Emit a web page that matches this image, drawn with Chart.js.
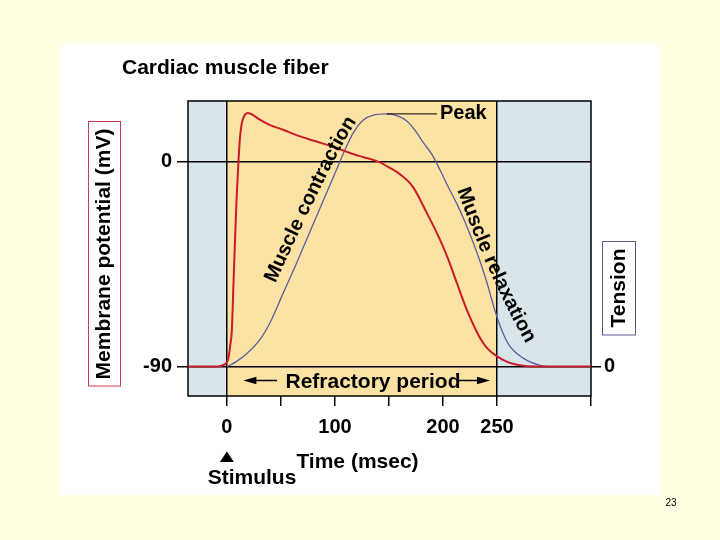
<!DOCTYPE html>
<html>
<head>
<meta charset="utf-8">
<script src="https://cdn.jsdelivr.net/npm/chart.js@4.4.1/dist/chart.umd.min.js"></script>
<style>
html, body { margin: 0; padding: 0; background: #FFFFE4; }
canvas { display: block; }
</style>
</head>
<body>
<canvas id="cardiacChart" width="720" height="540"></canvas>
<script>
// DATA (time in msec)
const apTime = [-36, -10, -5, -2, 0, 1.5, 3, 4.6, 6, 7.7, 9, 10.7, 12, 13.5, 16, 19.5, 24, 30, 40, 52, 65, 83, 100, 114, 126, 140, 150, 160, 172, 185, 197, 205, 213, 222, 229, 235, 241, 250, 260, 270, 285, 337];
const apMembrane = [-90, -90, -89.6, -89, -88, -86, -81, -74, -55, -32, -16, 0, 10, 16, 20, 21.3, 20.5, 18.5, 16, 14, 11.5, 8.8, 6.2, 3.8, 2, 0, -2.5, -5.5, -11, -22.5, -34, -43, -53.5, -65, -72.5, -78, -82, -85.5, -88, -89.3, -90, -90];

const tensionTime = [0, 8, 18, 31, 40, 52, 62, 71, 80, 89, 96, 103, 110, 117, 126, 135, 148, 158, 167, 175, 182, 190, 197.5, 205, 213, 220, 228, 235, 241, 248, 255, 262, 275, 290, 300, 337];
const tensionLevel = [0, 1.8, 5, 11, 17.5, 29, 38.5, 47.5, 56.5, 65.5, 72.5, 79.5, 86.5, 92.5, 97.5, 99.4, 100, 99.2, 97, 93, 88.5, 83.8, 77.6, 71, 64.3, 57.6, 49, 40.8, 32.8, 22.3, 13.8, 8, 3.2, 0.5, 0, 0];

const timeTicks = [0, 50, 100, 150, 200, 250, 337];
const timeLabels = [0, 100, 200, 250];
const membraneTicks = [-90, 0];
const tensionTicks = [0];

const FONT = "'Liberation Sans', Arial, sans-serif";
const PAGE = '#FFFFE4';
const SKY = '#D8E5EB';
const SAND = '#FCE3A3';
const RED = '#CC1B28';
const BLUE = '#5C5CA2';

// text laid along a quadratic curve, one glyph at a time
function textOnCurve(ctx, text, p0, p1, p2) {
  const pts = [{x: p0[0], y: p0[1], s: 0}];
  let len = 0;
  for (let i = 1; i <= 300; i++) {
    const t = i / 300, u = 1 - t;
    const x = u*u*p0[0] + 2*u*t*p1[0] + t*t*p2[0];
    const y = u*u*p0[1] + 2*u*t*p1[1] + t*t*p2[1];
    len += Math.hypot(x - pts[i-1].x, y - pts[i-1].y);
    pts.push({x, y, s: len});
  }
  let s = (len - ctx.measureText(text).width) / 2;
  for (const ch of text) {
    const w = ctx.measureText(ch).width;
    const mid = s + w / 2;
    let i = pts.findIndex(p => p.s >= mid);
    if (i < 1) i = 1;
    const a = pts[i-1], b = pts[i];
    const f = (mid - a.s) / ((b.s - a.s) || 1);
    ctx.save();
    ctx.translate(a.x + (b.x - a.x) * f, a.y + (b.y - a.y) * f);
    ctx.rotate(Math.atan2(b.y - a.y, b.x - a.x));
    ctx.textAlign = 'center';
    ctx.textBaseline = 'middle';
    ctx.fillText(ch, 0, 0);
    ctx.restore();
    s += w;
  }
}

const decor = {
  id: 'decor',
  beforeDraw(chart) {
    const {ctx, chartArea: a, scales: {x}} = chart;
    const x0 = x.getPixelForValue(0), x250 = x.getPixelForValue(250);
    ctx.save();
    ctx.fillStyle = PAGE;
    ctx.fillRect(0, 0, 720, 540);
    ctx.fillStyle = '#fff';
    ctx.fillRect(60, 44, 600, 451);
    ctx.fillStyle = SKY;
    ctx.fillRect(a.left, a.top, a.right - a.left, a.bottom - a.top);
    ctx.fillStyle = SAND;
    ctx.fillRect(x0, a.top, x250 - x0, a.bottom - a.top);
    ctx.restore();
  },
  beforeDatasetsDraw(chart) {
    const {ctx, chartArea: a} = chart;
    ctx.save();
    ctx.strokeStyle = '#000';
    ctx.lineWidth = 1.5;
    ctx.strokeRect(a.left, a.top, a.right - a.left, a.bottom - a.top);
    ctx.restore();
  },
  afterDraw(chart) {
    const {ctx, scales: {x, yt}} = chart;
    ctx.save();
    ctx.fillStyle = '#000';
    ctx.strokeStyle = '#000';
    ctx.font = 'bold 21px ' + FONT;
    ctx.textBaseline = 'alphabetic';

    // title
    ctx.textAlign = 'left';
    ctx.fillText('Cardiac muscle fiber', 122, 73.5);

    // membrane potential label in a box
    ctx.lineWidth = 1;
    ctx.strokeStyle = '#C83C50';
    ctx.strokeRect(88.5, 121.5, 32, 264.5);
    ctx.save();
    ctx.translate(104.5, 254);
    ctx.rotate(-Math.PI / 2);
    ctx.textAlign = 'center';
    ctx.textBaseline = 'middle';
    ctx.fillText('Membrane potential (mV)', 0, 0);
    ctx.restore();

    // tension label in a box
    ctx.strokeStyle = '#5A5A96';
    ctx.strokeRect(602.5, 241.5, 33, 93.5);
    ctx.save();
    ctx.translate(619, 288);
    ctx.rotate(-Math.PI / 2);
    ctx.textAlign = 'center';
    ctx.textBaseline = 'middle';
    ctx.fillText('Tension', 0, 0);
    ctx.restore();

    // peak marker
    const peakIdx = tensionLevel.indexOf(Math.max(...tensionLevel));
    const py = yt.getPixelForValue(tensionLevel[peakIdx]);
    ctx.strokeStyle = '#000';
    ctx.lineWidth = 1;
    ctx.beginPath();
    ctx.moveTo(x.getPixelForValue(tensionTime[peakIdx]), py);
    ctx.lineTo(437, py);
    ctx.stroke();
    ctx.font = 'bold 20px ' + FONT;
    ctx.textAlign = 'left';
    ctx.textBaseline = 'middle';
    ctx.fillText('Peak', 440, py);

    // refractory period
    ctx.font = 'bold 21px ' + FONT;
    ctx.textAlign = 'center';
    ctx.textBaseline = 'alphabetic';
    ctx.fillText('Refractory period', 373, 387.5);
    const ay = 380.5;
    const arrow = (from, to) => {
      const dir = Math.sign(to - from);
      ctx.lineWidth = 1.5;
      ctx.beginPath();
      ctx.moveTo(from, ay);
      ctx.lineTo(to - dir * 10, ay);
      ctx.stroke();
      ctx.beginPath();
      ctx.moveTo(to, ay);
      ctx.lineTo(to - dir * 13, ay - 3.8);
      ctx.lineTo(to - dir * 13, ay + 3.8);
      ctx.closePath();
      ctx.fill();
    };
    arrow(277, x.getPixelForValue(0) + 16.5);
    arrow(457, x.getPixelForValue(250) - 7);

    // curved labels
    ctx.font = 'bold 20px ' + FONT;
    textOnCurve(ctx, 'Muscle contraction', [268, 286], [338, 134], [355, 114]);
    textOnCurve(ctx, 'Muscle relaxation', [461, 184], [490, 268], [533, 345]);

    // x axis title and stimulus
    ctx.font = 'bold 21px ' + FONT;
    ctx.textAlign = 'center';
    ctx.textBaseline = 'alphabetic';
    ctx.fillText('Time (msec)', 357.5, 467.5);
    ctx.fillText('Stimulus', 252, 484);
    const sx = x.getPixelForValue(0);
    ctx.beginPath();
    ctx.moveTo(sx, 451.5);
    ctx.lineTo(sx + 7, 462);
    ctx.lineTo(sx - 7, 462);
    ctx.closePath();
    ctx.fill();

    // slide number
    ctx.font = '10px ' + FONT;
    ctx.fillText('23', 671, 506);
    ctx.restore();
  }
};

const tickFont = {family: FONT, size: 20, weight: 'bold'};

new Chart(document.getElementById('cardiacChart'), {
  type: 'line',
  data: {
    datasets: [
      {
        label: 'Membrane potential',
        data: apTime.map((t, i) => ({x: t, y: apMembrane[i]})),
        borderColor: RED,
        borderWidth: 2,
        pointRadius: 0,
        cubicInterpolationMode: 'monotone',
        yAxisID: 'y'
      },
      {
        label: 'Tension',
        data: tensionTime.map((t, i) => ({x: t, y: tensionLevel[i]})),
        borderColor: BLUE,
        borderWidth: 1.3,
        pointRadius: 0,
        cubicInterpolationMode: 'monotone',
        yAxisID: 'yt'
      }
    ]
  },
  options: {
    responsive: false,
    animation: false,
    devicePixelRatio: 1,
    layout: {padding: {top: 101, left: 0, right: 0, bottom: 0}},
    plugins: {legend: {display: false}, tooltip: {enabled: false}},
    scales: {
      x: {
        type: 'linear',
        min: -36,
        max: 337,
        afterBuildTicks: s => { s.ticks = timeTicks.map(v => ({value: v})); },
        afterFit: s => { s.height = 144; },
        border: {display: false},
        grid: {
          color: c => (c.tick && (c.tick.value === 0 || c.tick.value === 250)) ? '#000' : 'rgba(0,0,0,0)',
          tickColor: '#000',
          tickLength: 10,
          lineWidth: 1.5
        },
        ticks: {
          font: tickFont,
          color: '#000',
          padding: 9,
          maxRotation: 0,
          autoSkip: false,
          callback: v => timeLabels.includes(v) ? String(v) : ''
        }
      },
      y: {
        position: 'left',
        min: -102.9,
        max: 26.6,
        afterBuildTicks: s => { s.ticks = membraneTicks.map(v => ({value: v})); },
        afterFit: s => { s.width = 188; },
        border: {display: false},
        grid: {color: '#000', tickColor: '#000', tickLength: 11, lineWidth: 1.5},
        ticks: {font: tickFont, color: '#000', padding: 5, callback: v => String(v)}
      },
      yt: {
        position: 'right',
        min: -11.6,
        max: 105.1,
        afterBuildTicks: s => { s.ticks = tensionTicks.map(v => ({value: v})); },
        afterFit: s => { s.width = 129; },
        border: {display: false},
        grid: {drawOnChartArea: false, color: '#000', tickColor: '#000', tickLength: 10, lineWidth: 1.5},
        ticks: {font: tickFont, color: '#000', padding: 3, callback: v => String(v)}
      }
    }
  },
  plugins: [decor]
});
</script>
</body>
</html>
